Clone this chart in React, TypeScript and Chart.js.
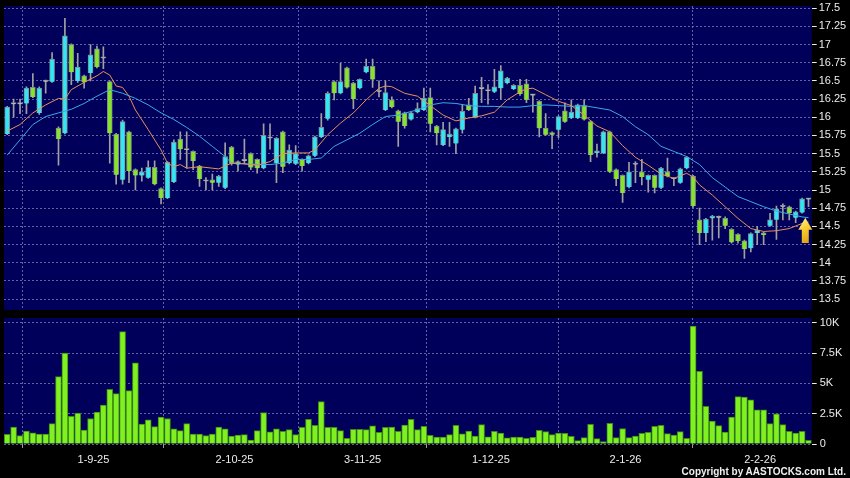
import React, { useEffect, useRef } from 'react';
import { Chart, registerables } from 'chart.js';

Chart.register(...registerables);

// ---- data ----
const dateLabels = ['1-9-25', '2-10-25', '3-11-25', '1-12-25', '2-1-26', '2-2-26'];
const dateBarIndex = [13, 35, 55, 75, 96, 117];

const priceTicks = [13.5, 13.75, 14, 14.25, 14.5, 14.75, 15, 15.25, 15.5, 15.75, 16, 16.25, 16.5, 16.75, 17, 17.25, 17.5];
const priceTickLabels = ['13.5', '13.75', '14', '14.25', '14.5', '14.75', '15', '15.25', '15.5', '15.75', '16', '16.25', '16.5', '16.75', '17', '17.25', '17.5'];
const volumeTicks = [0, 2.5, 5, 7.5, 10];
const volumeTickLabels = ['0', '2.5K', '5K', '7.5K', '10K'];

const open = [
  15.77, 16.18, 16.18, 16.19, 16.41, 16.06, 16.49, 16.49, 15.85, 15.78,
  17.0, 16.5, 16.57, 16.61, 16.94, 16.81, 16.49, 15.77, 15.14, 15.8,
  15.28, 15.2, 15.17, 15.31, 15.02, 14.89, 15.11, 15.7, 15.55, 15.53,
  15.33, 15.12, 15.14, 15.1, 15.03, 15.59, 15.35, 15.4, 15.5, 15.42,
  15.3, 15.71, 15.37, 15.8, 15.37, 15.36, 15.42, 15.37, 15.47, 15.73,
  15.98, 16.49, 16.33, 16.68, 16.47, 16.4, 16.62, 16.7, 16.35, 16.1,
  16.24, 16.09, 16.06, 15.97, 16.07, 16.1, 16.27, 15.88, 15.62, 15.73,
  15.64, 15.83, 16.17, 16.0, 16.39, 16.36, 16.35, 16.4, 16.47, 16.39,
  16.44, 16.46, 16.3, 16.22, 15.85, 15.79, 15.83, 16.09, 15.99, 15.99,
  16.16, 15.94, 15.51, 15.51, 15.8, 15.28, 15.2, 15.04, 15.35, 15.25,
  15.14, 15.2, 15.03, 15.25, 15.15, 15.1, 15.3, 15.19, 14.59, 14.41,
  14.61, 14.62, 14.61, 14.46, 14.39, 14.3, 14.2, 14.41, 14.41, 14.51,
  14.59, 14.77, 14.77, 14.62, 14.69, 14.87,
];
const high = [
  16.15, 16.25, 16.25, 16.42, 16.6, 16.42, 16.51, 16.89, 15.87, 17.36,
  17.01, 16.88, 16.58, 17.0, 16.98, 16.97, 16.5, 15.78, 15.96, 15.81,
  15.29, 15.3, 15.4, 15.4, 15.03, 15.39, 15.69, 15.8, 15.8, 15.54,
  15.34, 15.17, 15.22, 15.2, 15.65, 15.6, 15.4, 15.7, 15.51, 15.43,
  15.91, 15.91, 15.72, 15.81, 15.62, 15.61, 15.43, 15.48, 15.74, 16.05,
  16.35, 16.5, 16.74, 16.69, 16.48, 16.53, 16.8, 16.8, 16.5, 16.5,
  16.28, 16.1, 16.07, 16.07, 16.2, 16.4, 16.4, 15.89, 15.93, 15.93,
  15.85, 16.17, 16.26, 16.43, 16.55, 16.45, 16.66, 16.71, 16.55, 16.45,
  16.52, 16.52, 16.31, 16.23, 16.05, 15.8, 16.02, 16.2, 16.24, 16.18,
  16.24, 15.95, 15.63, 15.81, 15.81, 15.29, 15.21, 15.38, 15.39, 15.42,
  15.21, 15.21, 15.31, 15.44, 15.17, 15.3, 15.46, 15.2, 14.75, 14.61,
  14.65, 14.64, 14.63, 14.47, 14.4, 14.31, 14.41, 14.5, 14.42, 14.68,
  14.78, 14.81, 14.78, 14.71, 14.89, 14.88,
];
const low = [
  15.76, 16.0, 16.05, 16.05, 16.27, 16.04, 16.33, 16.48, 15.34, 15.77,
  16.45, 16.48, 16.4, 16.5, 16.68, 16.67, 15.37, 15.08, 15.08, 15.1,
  15.0, 15.12, 15.16, 15.07, 14.81, 14.88, 15.1, 15.42, 15.3, 15.28,
  15.05, 15.0, 15.0, 15.05, 15.02, 15.34, 15.26, 15.36, 15.28, 15.23,
  15.29, 15.56, 15.1, 15.24, 15.36, 15.35, 15.26, 15.36, 15.46, 15.72,
  15.96, 16.24, 16.32, 16.4, 16.12, 16.39, 16.61, 16.41, 16.28, 16.09,
  16.13, 15.6, 15.85, 15.96, 16.06, 16.09, 15.8, 15.62, 15.61, 15.6,
  15.5, 15.78, 16.09, 15.99, 16.2, 16.18, 16.34, 16.25, 16.46, 16.38,
  16.3, 16.2, 16.07, 15.73, 15.75, 15.57, 15.72, 15.93, 15.98, 15.98,
  15.96, 15.39, 15.45, 15.5, 15.24, 15.06, 14.83, 15.03, 15.1, 15.07,
  14.97, 14.96, 15.02, 15.18, 15.06, 15.09, 15.29, 14.76, 14.25, 14.29,
  14.31, 14.34, 14.47, 14.27, 14.27, 14.06, 14.15, 14.25, 14.25, 14.5,
  14.32, 14.59, 14.59, 14.55, 14.68, 14.77,
];
const close = [
  16.14, 16.18, 16.18, 16.4, 16.28, 16.4, 16.49, 16.8, 15.7, 17.12,
  16.62, 16.69, 16.48, 16.86, 16.69, 16.81, 15.78, 15.21, 15.94, 15.26,
  15.2, 15.25, 15.31, 15.08, 14.89, 15.38, 15.66, 15.56, 15.55, 15.4,
  15.15, 15.12, 15.1, 15.19, 15.46, 15.36, 15.39, 15.4, 15.31, 15.3,
  15.75, 15.71, 15.71, 15.32, 15.55, 15.5, 15.33, 15.47, 15.73, 15.86,
  16.33, 16.33, 16.49, 16.41, 16.25, 16.52, 16.7, 16.52, 16.35, 16.34,
  16.14, 15.94, 15.88, 16.06, 16.12, 16.26, 15.91, 15.78, 15.83, 15.77,
  15.84, 16.08, 16.1, 16.33, 16.39, 16.36, 16.42, 16.64, 16.54, 16.44,
  16.32, 16.24, 16.3, 15.85, 15.76, 15.76, 16.01, 15.94, 16.07, 16.17,
  15.97, 15.48, 15.54, 15.8, 15.25, 15.15, 14.96, 15.25, 15.35, 15.18,
  15.2, 15.03, 15.3, 15.19, 15.15, 15.29, 15.45, 14.78, 14.41, 14.6,
  14.64, 14.62, 14.51, 14.28, 14.3, 14.19, 14.4, 14.45, 14.38, 14.59,
  14.74, 14.77, 14.68, 14.7, 14.88, 14.87,
];
// volume in thousands
const volumeK = [
  0.8, 1.4, 0.7, 1.07, 0.93, 0.82, 0.82, 1.68, 5.55, 7.5,
  2.28, 2.55, 1.15, 2.1, 2.64, 3.21, 4.5, 4.15, 9.26, 4.4,
  6.7, 1.65, 2.0, 1.43, 2.22, 2.1, 1.26, 1.1, 1.68, 0.82,
  0.82, 0.69, 0.82, 1.4, 1.26, 0.66, 0.74, 0.77, 0.33, 1.1,
  2.6, 1.0, 1.26, 1.04, 1.18, 0.77, 1.37, 2.03, 1.54, 3.49,
  1.37, 1.37, 1.1, 0.47, 1.2, 1.2, 1.18, 1.5, 0.96, 1.37,
  1.4, 1.04, 1.57, 2.03, 1.18, 1.46, 0.72, 0.58, 0.58, 0.77,
  1.54, 0.83, 1.07, 0.66, 1.6, 0.6, 1.05, 0.91, 0.5, 0.58,
  0.58, 0.47, 0.55, 1.13, 1.02, 0.77, 0.91, 0.88, 0.63, 0.28,
  0.52, 1.63, 0.44, 0.19, 1.7, 0.52, 1.27, 0.52, 0.66, 0.88,
  0.96, 1.46, 1.54, 0.85, 0.74, 1.02, 0.47, 9.72, 6.0, 3.11,
  1.9, 1.51, 0.99, 2.23, 3.9, 3.86, 3.64, 2.81, 2.81, 1.68,
  2.48, 1.6, 1.05, 0.91, 1.05, 0.3,
];
// moving averages read at bar indices: [barIndex, value]
const maShort = [
  [0, 15.81], [2, 15.9], [4, 16.06], [6, 16.17], [8, 16.26], [9, 16.25], [10, 16.38], [12, 16.48], [14, 16.57], [15, 16.63],
  [16, 16.58], [17, 16.43], [18, 16.41], [19, 16.29], [20, 16.1], [22, 15.83], [24, 15.55], [25, 15.37], [26, 15.32], [27, 15.35],
  [28, 15.3], [30, 15.32], [32, 15.3], [33, 15.29], [35, 15.37], [37, 15.36], [39, 15.34], [41, 15.39], [43, 15.5], [45, 15.51],
  [47, 15.51], [48, 15.55], [50, 15.76], [52, 15.92], [54, 16.06], [56, 16.24], [58, 16.4], [59, 16.43], [60, 16.42], [62, 16.33],
  [64, 16.29], [66, 16.16], [68, 16.03], [70, 15.95], [72, 15.99], [74, 16.02], [76, 16.07], [78, 16.24], [80, 16.35], [81, 16.39],
  [82, 16.4], [84, 16.31], [86, 16.22], [88, 16.16], [90, 16.03], [92, 15.88], [94, 15.8], [96, 15.61], [98, 15.45], [100, 15.34],
  [102, 15.22], [104, 15.16], [106, 15.23], [107, 15.18], [108, 15.07], [110, 14.93], [112, 14.77], [114, 14.61], [116, 14.47], [118, 14.43],
  [120, 14.44], [122, 14.47], [124, 14.54], [125, 14.56],
];
const maLong = [
  [0, 15.48], [2, 15.69], [4, 15.9], [6, 16.01], [8, 16.06], [10, 16.11], [12, 16.19], [14, 16.29], [16, 16.38], [18, 16.33],
  [20, 16.26], [22, 16.17], [24, 16.06], [26, 15.97], [28, 15.86], [30, 15.74], [32, 15.6], [34, 15.46], [35, 15.37], [37, 15.36],
  [39, 15.35], [41, 15.35], [43, 15.37], [45, 15.42], [47, 15.42], [49, 15.44], [51, 15.6], [53, 15.69], [55, 15.78], [57, 15.9],
  [59, 16.01], [61, 16.03], [63, 16.08], [64, 16.1], [66, 16.17], [68, 16.2], [70, 16.19], [72, 16.16], [74, 16.15], [76, 16.15],
  [78, 16.14], [80, 16.14], [82, 16.16], [84, 16.17], [86, 16.16], [88, 16.15], [90, 16.16], [92, 16.13], [94, 16.1], [96, 16.01],
  [98, 15.87], [100, 15.76], [102, 15.6], [104, 15.53], [106, 15.46], [108, 15.35], [110, 15.17], [112, 15.04], [114, 14.91], [116, 14.84],
  [118, 14.77], [120, 14.71], [122, 14.67], [124, 14.63], [125, 14.62],
];
// yellow marker arrow: bar position and price span (tip, base)
const arrowBar = 124.5;
const arrowPrice = [14.62, 14.27];

// ---- styles ----
const NAVY = '#00005a';
const GRID = 'rgba(130,130,190,0.75)';
const CYAN = '#33e6f5';
const GREEN = '#88e42a';
const DOJI = '#b8b8b8';
const WICK = '#a0a0a0';
const ORANGE = '#e8905a';
const BLUE = '#3aa8e8';
const TEXT = '#ececec';
const FONT = '"Liberation Sans", Arial, sans-serif';
const N = open.length;
const gridPositions = dateBarIndex.map((v) => v + 0.45);

const panelBg = {
  id: 'panelBg',
  beforeDraw(chart: any) {
    const { ctx, chartArea: a } = chart;
    ctx.save();
    ctx.fillStyle = NAVY;
    ctx.fillRect(a.left, a.top, a.right - a.left, a.bottom - a.top);
    ctx.restore();
  },
};

const arrowPlugin = {
  id: 'arrowMark',
  afterDatasetsDraw(chart: any) {
    const { ctx, scales } = chart;
    const x = scales.x.getPixelForValue(arrowBar);
    const yTip = scales.y.getPixelForValue(arrowPrice[0]);
    const yBase = scales.y.getPixelForValue(arrowPrice[1]);
    const h = yBase - yTip;
    const headH = h * 0.48;
    ctx.save();
    const g = ctx.createLinearGradient(x - 7, yTip, x + 7, yBase);
    g.addColorStop(0, '#fff6a0');
    g.addColorStop(0.45, '#f8cc30');
    g.addColorStop(1, '#d89a10');
    ctx.fillStyle = g;
    ctx.beginPath();
    ctx.moveTo(x, yTip);
    ctx.lineTo(x + 7, yTip + headH);
    ctx.lineTo(x + 3.5, yTip + headH);
    ctx.lineTo(x + 3.5, yBase);
    ctx.lineTo(x - 3.5, yBase);
    ctx.lineTo(x - 3.5, yTip + headH);
    ctx.lineTo(x - 7, yTip + headH);
    ctx.closePath();
    ctx.fill();
    ctx.restore();
  },
};

const xMin = -0.5;
const xMax = N - 0.5;

const noPad = (s: any) => {
  s.paddingTop = 0;
  s.paddingBottom = 0;
  s.paddingLeft = 0;
  s.paddingRight = 0;
};

function priceConfig(): any {
  const bodyColors = open.map((o, i) => (close[i] > o ? CYAN : close[i] < o ? GREEN : DOJI));
  return {
    type: 'bar',
    data: {
      datasets: [
        {
          type: 'line', label: 'MA short', data: maShort.map(([x, y]) => ({ x, y })),
          borderColor: ORANGE, borderWidth: 1, pointRadius: 0, tension: 0, order: 0,
        },
        {
          type: 'line', label: 'MA long', data: maLong.map(([x, y]) => ({ x, y })),
          borderColor: BLUE, borderWidth: 1, pointRadius: 0, tension: 0, order: 1,
        },
        {
          type: 'bar', label: 'body', data: open.map((o, i) => ({ x: i, y: [o, close[i]] })),
          backgroundColor: bodyColors, borderColor: '#7c8c8c', borderWidth: 1,
          barThickness: 5, minBarLength: 1.5, grouped: false, order: 2,
        },
        {
          type: 'bar', label: 'wick', data: low.map((l, i) => ({ x: i, y: [l, high[i]] })),
          backgroundColor: WICK, borderWidth: 0, barThickness: 1, grouped: false, order: 3,
        },
      ],
    },
    options: {
      responsive: false,
      animation: false,
      layout: { autoPadding: false, padding: { left: 4, top: 6, bottom: 4, right: 0 } },
      plugins: { legend: { display: false }, tooltip: { enabled: false } },
      scales: {
        x: {
          type: 'linear', min: xMin, max: xMax, offset: false,
          afterBuildTicks: (s: any) => { s.ticks = gridPositions.map((v) => ({ value: v })); },
          ticks: { display: false },
          grid: { color: GRID, drawTicks: false, lineWidth: 1 },
          border: { display: false, dash: [2, 2] },
          afterFit: (s: any) => { s.height = 0; noPad(s); },
        },
        y: {
          position: 'right', min: 13.35, max: 17.53,
          afterBuildTicks: (s: any) => { s.ticks = priceTicks.map((v) => ({ value: v })); },
          ticks: {
            color: TEXT, font: { family: FONT, size: 11 }, padding: 2,
            callback: (_v: any, i: number) => priceTickLabels[i],
          },
          grid: { color: GRID, drawTicks: true, tickLength: 5, tickColor: TEXT, tickBorderDash: [], lineWidth: 1 },
          border: { display: false, dash: [2, 2] },
          afterFit: (s: any) => { s.width = 38.3; noPad(s); },
        },
      },
    },
    plugins: [panelBg, arrowPlugin],
  };
}

function volumeConfig(): any {
  return {
    type: 'bar',
    data: {
      datasets: [
        {
          label: 'Volume', data: volumeK.map((v, i) => ({ x: i, y: v })),
          backgroundColor: '#80f020', borderColor: '#3c8c14', borderWidth: 1, barThickness: 6, grouped: false,
        },
      ],
    },
    options: {
      responsive: false,
      animation: false,
      layout: { autoPadding: false, padding: { left: 4, top: 4, bottom: 0, right: 0 } },
      plugins: { legend: { display: false }, tooltip: { enabled: false } },
      scales: {
        x: {
          type: 'linear', min: xMin, max: xMax, offset: false,
          afterBuildTicks: (s: any) => { s.ticks = gridPositions.map((v) => ({ value: v })); },
          ticks: {
            color: TEXT, font: { family: FONT, size: 11 }, padding: 5, autoSkip: false, maxRotation: 0,
            callback: (_v: any, i: number) => dateLabels[i],
          },
          grid: { color: GRID, drawTicks: true, tickLength: 4, tickColor: '#9a9a9a', tickBorderDash: [], lineWidth: 1 },
          border: { display: false, dash: [2, 2] },
          afterFit: (s: any) => { s.height = 34; noPad(s); },
        },
        y: {
          position: 'right', min: 0, max: 10.39,
          afterBuildTicks: (s: any) => { s.ticks = volumeTicks.map((v) => ({ value: v })); },
          ticks: {
            color: TEXT, font: { family: FONT, size: 11 }, padding: 3,
            callback: (_v: any, i: number) => volumeTickLabels[i],
          },
          grid: { color: GRID, drawTicks: true, tickLength: 5, tickColor: TEXT, tickBorderDash: [], lineWidth: 1 },
          border: { display: false, dash: [2, 2] },
          afterFit: (s: any) => { s.width = 38.3; noPad(s); },
        },
      },
    },
    plugins: [panelBg],
  };
}

export default function App() {
  const priceRef = useRef<HTMLCanvasElement>(null);
  const volRef = useRef<HTMLCanvasElement>(null);

  useEffect(() => {
    document.body.style.margin = '0';
    document.body.style.background = '#000';
    const pc = new Chart(priceRef.current as HTMLCanvasElement, priceConfig());
    const vc = new Chart(volRef.current as HTMLCanvasElement, volumeConfig());
    return () => {
      pc.destroy();
      vc.destroy();
    };
  }, []);

  return (
    <div style={{ position: 'relative', width: 850, height: 478, background: '#000', overflow: 'hidden' }}>
      <canvas ref={priceRef} width={850} height={314} style={{ position: 'absolute', left: 0, top: 0, width: 850, height: 314 }} />
      <canvas ref={volRef} width={850} height={164} style={{ position: 'absolute', left: 0, top: 314, width: 850, height: 164 }} />
      <div
        style={{
          position: 'absolute', right: 4, top: 466.5, color: '#f0f0f0',
          font: `bold 10px ${FONT}`, lineHeight: '10px', whiteSpace: 'nowrap',
        }}
      >
        Copyright by AASTOCKS.com Ltd.
      </div>
    </div>
  );
}
